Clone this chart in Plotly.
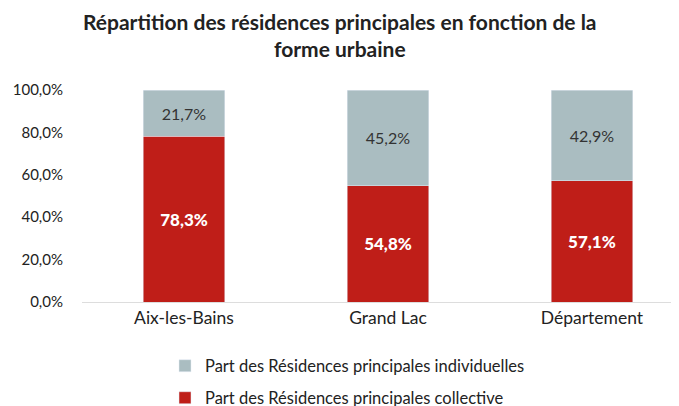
import plotly.graph_objects as go

# Répartition des résidences principales par forme urbaine

territoires = ['Aix-les-Bains', 'Grand Lac', 'Département']
part_collective = [78.3, 54.8, 57.1]
part_individuelle = [21.7, 45.2, 42.9]

def fmt(v):
    return f"{v:.1f}%".replace('.', ',')

W, H = 679, 406

fig = go.Figure()

fig.add_trace(go.Bar(
    x=territoires, y=part_collective,
    name='Part des Résidences principales collective',
    marker_color='#BF1E18',
    text=[fmt(v) for v in part_collective],
    textposition='inside', insidetextanchor='middle',
    textfont=dict(color='white', size=17, family='Lato Black, Lato'),
    legend='legend2'
))

fig.add_trace(go.Bar(
    x=territoires, y=part_individuelle,
    name='Part des Résidences principales individuelles',
    marker_color='#AABDC1',
    text=[fmt(v) for v in part_individuelle],
    textposition='inside', insidetextanchor='middle',
    textfont=dict(color='#333333', size=16, family='Lato'),
    legend='legend'
))

leg = dict(orientation='v', xref='container', yref='container',
           xanchor='left', yanchor='middle', font=dict(size=16.5),
           itemwidth=30, bgcolor='rgba(0,0,0,0)')

fig.update_layout(
    barmode='stack', bargap=0.6,
    width=W, height=H,
    paper_bgcolor='white', plot_bgcolor='white',
    font=dict(family='Lato', size=15, color='#222222'),
    margin=dict(l=74, r=0, t=82, b=112, autoexpand=False),
    legend=dict(leg, x=157 / W, y=1 - 358 / H),
    legend2=dict(leg, x=157 / W, y=1 - 390 / H),
    showlegend=True,
    annotations=[dict(
        text='<b>Répartition des résidences principales en fonction de la<br>forme urbaine</b>',
        xref='paper', yref='paper', x=(332 - 74) / 605, y=1 + (82 - 27) / 212,
        xanchor='center', yanchor='middle', showarrow=False,
        font=dict(size=21, color='#222222'), align='center'
    )]
)

fig.update_xaxes(
    range=[-0.5, 2.466], showline=True, linecolor='#DDDDDD', linewidth=1,
    ticks='', tickfont=dict(size=17.5)
)
fig.update_yaxes(
    range=[0, 100], tickvals=[0, 20, 40, 60, 80, 100],
    ticktext=['0,0%', '20,0%', '40,0%', '60,0%', '80,0%', '100,0%'],
    showgrid=False, zeroline=False, ticks='', ticklabelstandoff=18,
    tickfont=dict(size=15)
)

fig.write_html("out.html")
